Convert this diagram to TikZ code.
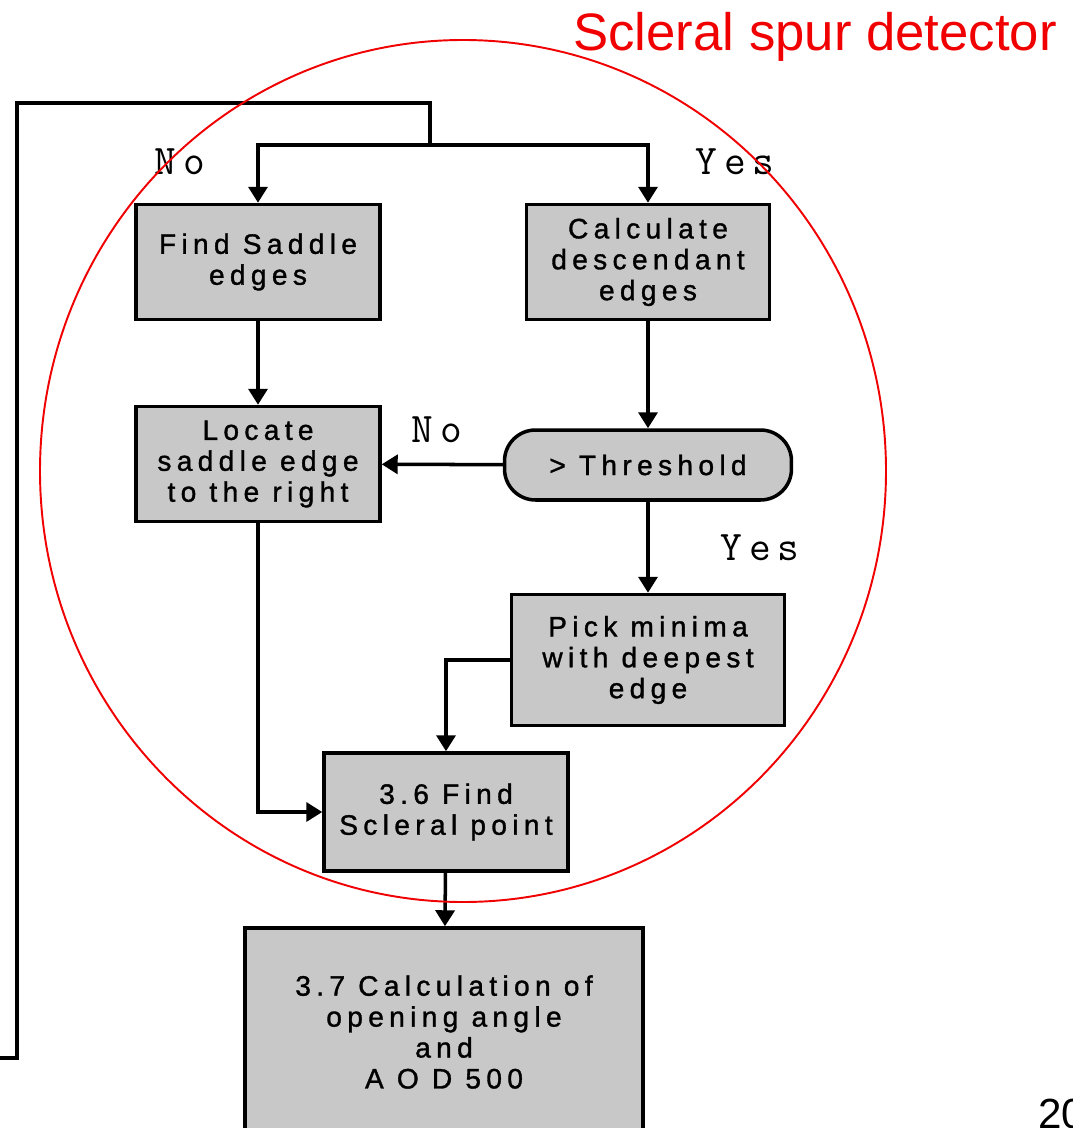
\documentclass[tikz,border=0pt]{standalone}
\usepackage{fontspec}
\setmainfont{Liberation Sans}
\newfontfamily\boxfont[LetterSpace=19,FakeBold=1.2]{Liberation Sans}
\usepackage{tikz}
\usetikzlibrary{arrows.meta,positioning}
\definecolor{boxgray}{RGB}{200,200,200}
\definecolor{spurred}{RGB}{240,0,0}

\begin{document}
\begin{tikzpicture}[x=0.02cm, y=-0.02cm,
    proc/.style={draw=black, fill=boxgray, line width=2pt, align=center, inner sep=2pt, font=\boxfont\fontsize{16}{17.6}\selectfont},
    term/.style={proc, rounded corners=0.62cm},
    lbl/.style={font=\ttfamily\fontsize{24}{24}\selectfont},
    flow/.style={line width=2pt, -{Triangle[width=0.38cm,length=0.32cm]}},
    link/.style={line width=2pt}
]
\useasboundingbox (0,0) rectangle (1072,1128);
% process boxes
\node[proc, minimum width=4.88cm, minimum height=2.3cm] (saddle) at (258,262) {Find Saddle\\edges};
\node[proc, minimum width=4.86cm, minimum height=2.3cm] (calc) at (648,262) {Calculate\\descendant\\edges};
\node[proc, minimum width=4.88cm, minimum height=2.3cm] (locate) at (258,464) {Locate\\saddle edge\\to the right};
\node[term, minimum width=5.74cm, minimum height=1.4cm] (thresh) at (648,465) {> Threshold};
\node[proc, minimum width=5.46cm, minimum height=2.62cm] (pick) at (648,660) {Pick minima\\with deepest\\edge};
\node[proc, minimum width=4.88cm, minimum height=2.36cm] (scleral) at (446,812) {3.6 Find\\Scleral point};
\node[proc, minimum width=7.96cm, minimum height=4.16cm] (angle) at (444,1032) {3.7 Calculation of\\opening angle\\and\\A O D 500};
% loop back from the left
\coordinate (loopin) at (0,1058);
\coordinate (split) at (430,145);
\draw[link] (loopin) -| (17,103) -| (split);
\draw[flow] (split) -| (saddle.north);
\draw[flow] (split) -| (calc.north);
\draw[flow] (saddle) -- (locate);
\draw[flow] (calc) -- (thresh);
\draw[flow] (thresh) -- (locate);
\draw[flow] (thresh) -- (pick);
\draw[flow] (pick.west) -| (scleral.north);
\draw[flow] (locate.south) |- (scleral.west);
\draw[flow] (scleral) -- (angle);
% branch labels
\node[lbl] (nosplit) at (180,162) {N\,o};
\node[lbl] (yessplit) at (735,162) {Y\,e\,s};
\node[lbl] (nothresh) at (437,430) {N\,o};
\node[lbl] (yesthresh) at (760,548) {Y\,e\,s};
% detector outline
\draw[spurred, line width=1.1pt] (463,471) ellipse [x radius=423, y radius=431];
\node[spurred, font=\fontsize{30}{36}\selectfont, anchor=base west, inner sep=0pt] (title) at (573,51) {Scleral spur detector};
\node[font=\fontsize{24}{28}\selectfont, anchor=base west, inner sep=0pt] (pagenum) at (1038,1128) {20};
\end{tikzpicture}
\end{document}
